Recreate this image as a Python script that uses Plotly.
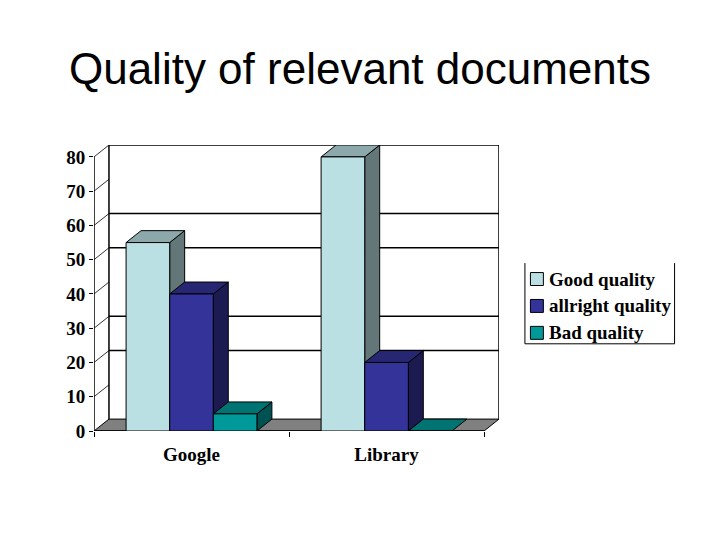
import plotly.graph_objects as go

categories = ["Google", "Library"]
series_names = ["Good quality", "allright quality", "Bad quality"]
good_quality = [55, 80]
allright_quality = [40, 20]
bad_quality = [5, 0]
series_values = [good_quality, allright_quality, bad_quality]
front_colors = ["#BBE0E3", "#333399", "#009999"]
top_colors = ["#8CA8AA", "#262673", "#007373"]
side_colors = ["#637779", "#1B1B51", "#005151"]
y_ticks = [0, 10, 20, 30, 40, 50, 60, 70, 80]
wall_gridlines = [20, 30, 50, 60]

# pixel layout of the plot area as seen in the page; the page body adds 8px
PAGE = 8
L, R, T, B = 93.5, 499.5, 144.5, 431.5
PX_PER_CAT = 195.4
PX_PER_UNIT = 3.45
DX_PX, DY_PX = 15.0, 12.0
dx = DX_PX / PX_PER_CAT
dy = DY_PX / PX_PER_UNIT
x_max = 2 + dx
y_max = 80 + dy
bar_w = 43.7 / PX_PER_CAT
gap = 1 - 3 * bar_w

fig = go.Figure()


def poly(xs, ys, fill, line_w=1.0):
    fig.add_trace(go.Scatter(
        x=xs, y=ys, mode="lines", fill="toself", fillcolor=fill,
        line=dict(color="#000000", width=line_w), hoverinfo="skip",
        showlegend=False, cliponaxis=False))


def seg(xs, ys, width=1.5):
    fig.add_trace(go.Scatter(
        x=xs, y=ys, mode="lines", line=dict(color="#000000", width=width),
        hoverinfo="skip", showlegend=False, cliponaxis=False))


# floor
poly([0, 2, 2 + dx, dx, 0], [0, 0, dy, dy, 0], "#808080")
# back wall
seg([dx, dx, 2 + dx, 2 + dx], [dy, 80 + dy, 80 + dy, dy])
for v in wall_gridlines:
    seg([dx, 2 + dx], [v + dy, v + dy])
# left wall diagonals and front axes
for v in y_ticks[1:]:
    seg([0, dx], [v, v + dy], 0.8)
seg([0, 0], [0, 80])
seg([0, 2], [0, 0])

# depth faces, painted left to right
for c in range(len(categories)):
    for i in range(len(series_names)):
        v = series_values[i][c]
        x0 = c + gap / 2 + i * bar_w
        x1 = x0 + bar_w
        if v > 0:
            poly([x1, x1 + dx, x1 + dx, x1, x1], [0, dy, v + dy, v, 0], side_colors[i])
        poly([x0, x1, x1 + dx, x0 + dx, x0], [v, v, v + dy, v + dy, v], top_colors[i])

# front faces on an overlaid axis pair, so they sit above the depth faces
x_pos = [0.5, 1.5]
for i, name in enumerate(series_names):
    fig.add_trace(go.Bar(
        x=x_pos, y=series_values[i], name=name, showlegend=False,
        marker=dict(color=front_colors[i], line=dict(color="#000000", width=1)),
        xaxis="x2", yaxis="y2", hoverinfo="skip"))


def px(x):
    return (x - L) / (R - L)


def py(y):
    return (B - y) / (B - T)


legend_shapes = [
    dict(type="line", xref="paper", yref="paper", x0=px(x0), x1=px(x1), y0=py(y0), y1=py(y1),
         line=dict(color="#000000", width=1))
    for x0, y0, x1, y1 in [(525.5, 263, 525.5, 344), (525.5, 344, 675.5, 344), (675.5, 344, 675.5, 263)]
]

# legend drawn by hand: its swatch-to-text distance is tighter than Plotly's own legend allows
legend_rows = [279, 306, 333]
legend_annotations = []
for name, color, row in zip(series_names, front_colors, legend_rows):
    legend_shapes.append(dict(
        type="rect", xref="paper", yref="paper", x0=px(531), x1=px(544),
        y0=py(row + 6.5), y1=py(row - 6.5), fillcolor=color,
        line=dict(color="#000000", width=1)))
    legend_annotations.append(dict(
        text=name, xref="paper", yref="paper", x=px(549), y=py(row), xanchor="left",
        yanchor="middle", showarrow=False, borderpad=0,
        font=dict(family="Liberation Serif", size=19, color="#000000", weight=700)))

serif = dict(family="Liberation Serif", size=19, color="#000000", weight=700)

fig.update_layout(
    width=720, height=540, autosize=False,
    margin=dict(l=L - PAGE, r=720 - (R - PAGE), t=T - PAGE, b=540 - (B - PAGE), autoexpand=False),
    paper_bgcolor="#FFFFFF", plot_bgcolor="#FFFFFF",
    barmode="group", bargap=gap, bargroupgap=0, showlegend=False,
    title=dict(text="Quality of relevant documents", x=(360 - PAGE) / 720, xanchor="center",
               xref="container", y=0.860, yref="container", yanchor="bottom",
               font=dict(family="Liberation Sans", size=44, color="#000000")),
    xaxis=dict(range=[0, x_max], tickmode="array", tickvals=x_pos, ticktext=categories,
               ticks="", showgrid=False, zeroline=False, showline=False, tickfont=serif,
               minor=dict(tickmode="array", tickvals=[0, 1, 2], ticks="outside",
                          ticklen=5, tickcolor="#000000", tickwidth=1, showgrid=False),
               ticklabelstandoff=10),
    yaxis=dict(range=[0, y_max], tickmode="array", tickvals=y_ticks, ticks="outside",
               ticklen=4, tickcolor="#000000", tickwidth=1, showgrid=False, zeroline=False,
               showline=False, tickfont=serif),
    xaxis2=dict(overlaying="x", range=[0, x_max], visible=False),
    yaxis2=dict(overlaying="y", range=[0, y_max], visible=False),
    shapes=legend_shapes,
    annotations=legend_annotations,
)

fig.write_html("out.html")
